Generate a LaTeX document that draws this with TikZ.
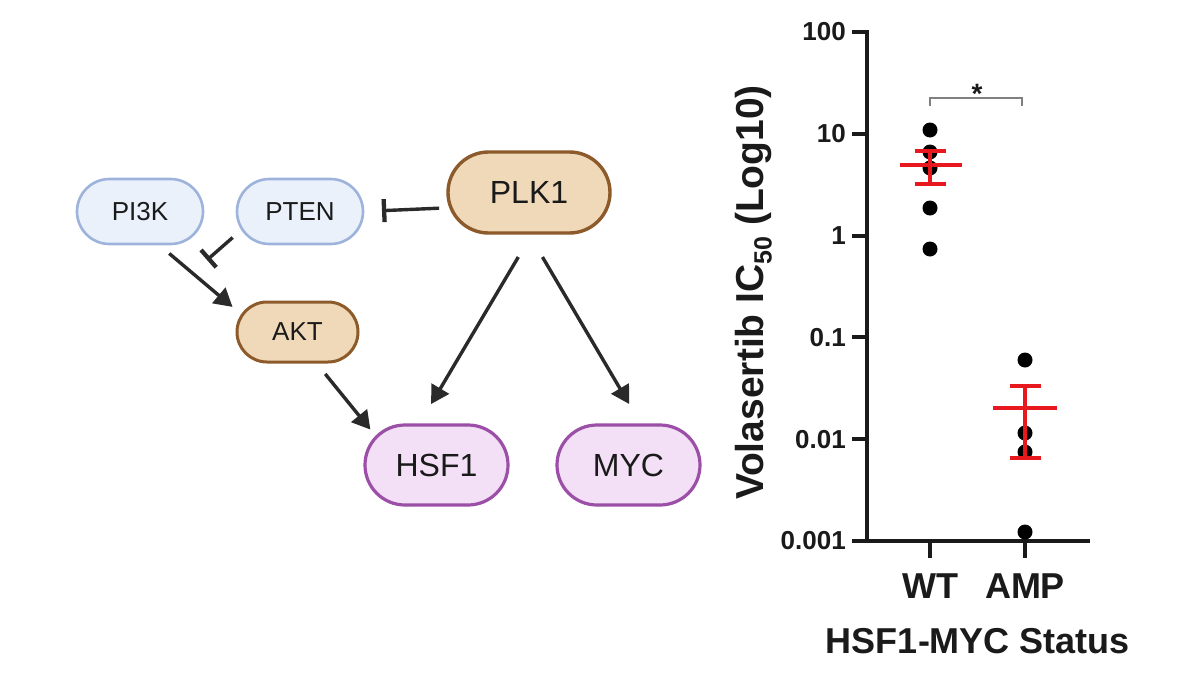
\documentclass[tikz,border=0pt]{standalone}
\usepackage{fontspec}
\setmainfont{Liberation Sans}
\usetikzlibrary{arrows.meta,shapes.misc}
\definecolor{bluefill}{HTML}{EAF1FB}
\definecolor{blueline}{HTML}{9DB3DC}
\definecolor{brownfill}{HTML}{EFD9B9}
\definecolor{brownline}{HTML}{8C5A2B}
\definecolor{purplefill}{HTML}{F3DFF6}
\definecolor{purpleline}{HTML}{9B4FA6}
\definecolor{ink}{HTML}{2A2A2A}
\definecolor{txt}{HTML}{1A1A1A}
\definecolor{errred}{HTML}{E8191E}
\newcommand\fsz[1]{\fontsize{#1}{#1}\selectfont}
\tikzset{
  prot/.style={rounded rectangle, inner sep=0pt, outer sep=0pt, text=txt},
  pbl/.style={prot, fill=bluefill, draw=blueline, line width=2.6pt, font=\fsz{26}},
  pbr/.style={prot, fill=brownfill, draw=brownline, line width=3pt},
  ppu/.style={prot, fill=purplefill, draw=purpleline, line width=3.2pt, font=\fsz{32}},
  act/.style={line width=3.4pt, draw=ink, -{Triangle[length=18pt,width=20pt]}},
  inh/.style={line width=3.4pt, draw=ink, -{Bar[width=23pt, line width=4.3pt]}},
  axisline/.style={line width=4pt, draw=txt},
  errbar/.style={line width=3.5pt, draw=errred},
  dot/.style={fill=black},
  ticklab/.style={anchor=east, font=\bfseries\fsz{26}, text=txt, inner sep=0pt},
  catlab/.style={anchor=base, font=\bfseries\fsz{36}, text=txt, inner sep=0pt},
}
\begin{document}
\begin{tikzpicture}[x=1pt,y=-1pt]
\useasboundingbox[fill=white] (0,0) rectangle (1200,675);

% ---------- pathway ----------
\node[pbl, minimum width=126pt, minimum height=65pt] (pi3k) at (140,211.5) {PI3K};
\node[pbl, minimum width=126pt, minimum height=65pt] (pten) at (300,211.5) {PTEN};
\node[pbr, minimum width=121pt, minimum height=60pt, font=\fsz{26}] (akt) at (297.5,332) {AKT};
\node[pbr, minimum width=162pt, minimum height=81pt, font=\fsz{32}, line width=3.4pt] (plk1) at (529,192.5) {PLK1};
\node[ppu, minimum width=143pt, minimum height=80pt] (hsf1) at (436.5,465) {HSF1};
\node[ppu, minimum width=143pt, minimum height=80pt] (myc) at (628.5,465) {MYC};

\coordinate (inhpt) at (207,260);

\draw[act, shorten <=14.7pt, shorten >=12.7pt] (pi3k.-61.3) -- (akt.163);
\draw[inh, shorten <=11.85pt, shorten >=19pt] (plk1.-169.2) -- (pten.0);
\draw[inh, shorten <=12.7pt] (pten.197.7) -- (inhpt);
\draw[act, shorten <=15.4pt, shorten >=9.6pt] (akt.-59.2) -- (hsf1.155.6);
\draw[act, shorten <=27.9pt, shorten >=24.4pt] (plk1.-85.5) -- (hsf1.114.1);
\draw[act, shorten <=27.9pt, shorten >=24.4pt] (plk1.-91.7) -- (myc.72.1);

% ---------- chart ----------
\draw[axisline] (867,30) -- (867,541) -- (1090,541);
\foreach \yy/\lab/\nm in {32/100/t100, 133.8/10/t10, 235.6/1/t1, 337.4/0.1/t01, 439.2/0.01/t001, 541/0.001/t0001}{
  \draw[axisline] (852,\yy) -- (867,\yy);
  \node[ticklab] (\nm) at (846,\yy) {\lab};
}
\draw[axisline] (930,541) -- (930,558);
\draw[axisline] (1025,541) -- (1025,558);

\node[catlab] (wt) at (930,598) {WT};
\node[catlab] (amp) at (1025,598) {AMP};
\node[catlab] (status) at (978,653) {HSF1-MYC Status};
\node[rotate=90, anchor=base, font=\bfseries\fsz{39}, text=txt, inner sep=0pt] (ylab) at (763,292.5)
  {Volasertib IC\raisebox{-0.22em}{\fsz{25}50} (Log10)};

% WT data
\foreach \yy in {130,152,168,208,249}{ \fill[dot] (930,\yy) circle[radius=7.5pt]; }
\draw[errbar] (900,165) -- (962,165);
\draw[errbar] (930,151) -- (930,184);
\draw[errbar] (915,151) -- (946,151);
\draw[errbar] (915,184) -- (946,184);

% AMP data
\foreach \yy in {360,433,452,532}{ \fill[dot] (1025,\yy) circle[radius=7.5pt]; }
\draw[errbar] (993,408) -- (1057,408);
\draw[errbar] (1025,386) -- (1025,458);
\draw[errbar] (1010,386) -- (1041,386);
\draw[errbar] (1010,458) -- (1041,458);

% significance
\draw[line width=1.3pt, draw=gray] (930,106) -- (930,98) -- (1022,98) -- (1022,106);
\node[anchor=base, font=\bfseries\fsz{28}, text=txt, inner sep=0pt] (star) at (977,103) {*};
\end{tikzpicture}
\end{document}
